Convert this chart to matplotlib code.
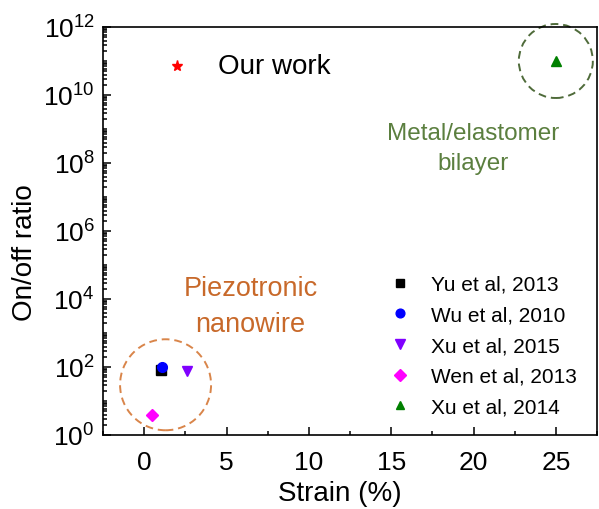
import matplotlib
matplotlib.use("Agg")
import matplotlib.pyplot as plt
import matplotlib.transforms as mtransforms
from matplotlib.patches import Circle
from matplotlib.ticker import LogLocator, MultipleLocator, NullFormatter
import numpy as np

plt.rcParams['font.family'] = ['Liberation Sans', 'DejaVu Sans']
plt.rcParams['mathtext.fontset'] = 'custom'
plt.rcParams['mathtext.rm'] = 'Liberation Sans'

# strain (%) and on/off ratio for each reported device
our_strain = [2.0]
our_ratio = [7e10]

yu_strain = [1.0]
yu_ratio = [80]
wu_strain = [1.1]
wu_ratio = [100]
xu15_strain = [2.6]
xu15_ratio = [75]
wen_strain = [0.5]
wen_ratio = [4]
xu14_strain = [25.0]
xu14_ratio = [1e11]

y_major = [1e0, 1e2, 1e4, 1e6, 1e8, 1e10, 1e12]

fig = plt.figure(figsize=(5.99, 5.10), dpi=100)
ax = fig.add_axes([103 / 599, 1 - 436 / 510, 494 / 599, 408 / 510])

ax.plot(our_strain, our_ratio, '*', color='red', ms=8, ls='none')
ax.plot(yu_strain, yu_ratio, 's', color='black', ms=6.5, ls='none', label='Yu et al, 2013')
ax.plot(wu_strain, wu_ratio, 'o', color='blue', ms=7, ls='none', label='Wu et al, 2010')
ax.plot(xu15_strain, xu15_ratio, 'v', color='#8000ff', ms=7.5, ls='none', label='Xu et al, 2015')
ax.plot(wen_strain, wen_ratio, 'D', color='magenta', ms=6.5, ls='none', label='Wen et al, 2013')
ax.plot(xu14_strain, xu14_ratio, '^', color='green', ms=7, ls='none', label='Xu et al, 2014')

ax.set_yscale('log')
ax.set_xlim(-2.5, 27.5)
ax.set_ylim(1, 1e12)

# dashed rings around the two device groups
piezo_x = np.mean(yu_strain + wu_strain + xu15_strain + wen_strain)
piezo_y = 10 ** np.mean(np.log10(yu_ratio + wu_ratio + xu15_ratio + wen_ratio))
for cx, cy, r, dy, col in [(piezo_x, piezo_y, 0.455, -0.04, '#d9854a'),
                           (xu14_strain[0], xu14_ratio[0], 0.37, 0.0, '#4f6b3a')]:
    trans = fig.dpi_scale_trans + mtransforms.ScaledTranslation(cx, cy, ax.transData)
    ax.add_patch(Circle((0, dy), r, transform=trans, fill=False, ec=col,
                        lw=1.4, ls=(0, (4, 2.5)), clip_on=False))

ax.text(4.5, our_ratio[0], 'Our work', fontsize=20, va='center', ha='left')
ax.text(6.45, 10 ** 3.8, 'Piezotronic\nnanowire', fontsize=19.5, color='#c8692a',
        ha='center', va='center', linespacing=1.5)
ax.text(20.0, 10 ** 8.45, 'Metal/elastomer\nbilayer', fontsize=17.5, color='#5b7f3f',
        ha='center', va='center', linespacing=1.45)

ax.set_yticks(y_major)
ax.yaxis.set_minor_locator(LogLocator(base=10, subs=np.arange(1, 10), numticks=100))
ax.yaxis.set_minor_formatter(NullFormatter())
ax.xaxis.set_major_locator(MultipleLocator(5))
ax.xaxis.set_minor_locator(MultipleLocator(2.5))

ax.tick_params(which='both', direction='in', labelsize=19, width=1.1)
ax.tick_params(which='major', length=6, pad=6)
ax.tick_params(which='minor', length=3)
ax.tick_params(axis='x', which='major', pad=11)
for sp in ax.spines.values():
    sp.set_linewidth(1.2)

ax.set_xlabel('Strain (%)', fontsize=20, labelpad=4, x=0.48)
ax.set_ylabel('On/off ratio', fontsize=20, labelpad=4, y=0.45)

ax.legend(loc='center', bbox_to_anchor=(0.77, 0.219), frameon=False, fontsize=15,
          handlelength=1.0, handletextpad=1.0, labelspacing=0.56, markerscale=0.9)

fig.savefig('out.png', dpi=100)
